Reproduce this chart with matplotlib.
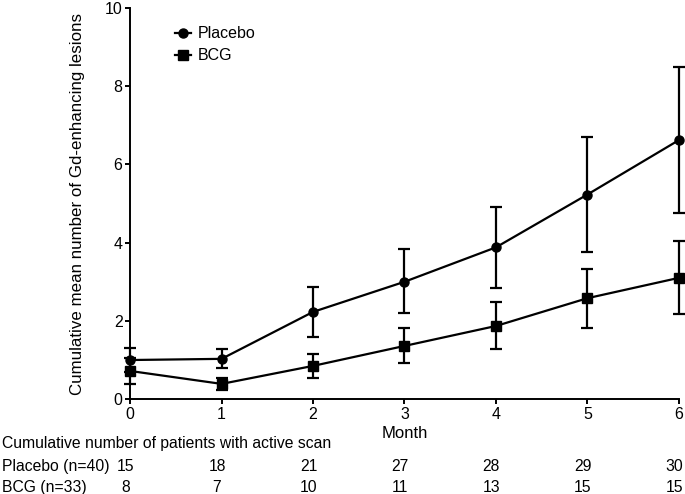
import matplotlib.pyplot as plt
from matplotlib import transforms

plt.rcParams['font.family'] = ['Liberation Sans', 'DejaVu Sans']

months = [0, 1, 2, 3, 4, 5, 6]

placebo = [1.0, 1.03, 2.23, 3.0, 3.88, 5.23, 6.62]
placebo_lo = [0.69, 0.79, 1.59, 2.2, 2.84, 3.76, 4.76]
placebo_hi = [1.31, 1.28, 2.87, 3.83, 4.92, 6.7, 8.49]

bcg = [0.72, 0.39, 0.85, 1.36, 1.87, 2.58, 3.1]
bcg_lo = [0.39, 0.23, 0.54, 0.92, 1.28, 1.82, 2.17]
bcg_hi = [1.05, 0.54, 1.15, 1.82, 2.48, 3.32, 4.04]

n_placebo = [15, 18, 21, 27, 28, 29, 30]
n_bcg = [8, 7, 10, 11, 13, 15, 15]


def err(mean, lo, hi):
    return [[m - l for m, l in zip(mean, lo)], [h - m for m, h in zip(mean, hi)]]


fig = plt.figure(figsize=(6.85, 4.94), dpi=100)
ax = fig.add_axes([0.19, 0.192, 0.801, 0.792])

ax.errorbar(months, placebo, yerr=err(placebo, placebo_lo, placebo_hi), color='black',
            marker='o', markersize=6.5, lw=1.6, elinewidth=1.6, capsize=4, capthick=1.6,
            label='Placebo', clip_on=False, zorder=3)
ax.errorbar(months, bcg, yerr=err(bcg, bcg_lo, bcg_hi), color='black',
            marker='s', markersize=6.5, lw=1.6, elinewidth=1.6, capsize=4, capthick=1.6,
            label='BCG', clip_on=False, zorder=3)

ax.set_xlim(0, 6)
ax.set_ylim(0, 10)
ax.set_xticks(months)
ax.set_yticks([0, 2, 4, 6, 8, 10])
ax.spines['top'].set_visible(False)
ax.spines['right'].set_visible(False)
ax.spines['left'].set_linewidth(1.4)
ax.spines['bottom'].set_linewidth(1.4)
ax.tick_params(labelsize=11.5, width=1.4, length=3.5, pad=2, direction='out')
ax.set_xlabel('Month', fontsize=12, labelpad=3)
ax.set_ylabel('Cumulative mean number of Gd-enhancing lesions', fontsize=12.2, labelpad=14)

handles, labels = ax.get_legend_handles_labels()
handles = [h[0] for h in handles]
ax.legend(handles, labels, loc='upper left', bbox_to_anchor=(0.055, 0.99), frameon=False,
          fontsize=11.5, handlelength=1.0, handletextpad=0.45, labelspacing=0.45)

tr = transforms.blended_transform_factory(ax.transData, fig.transFigure)
fs = 11.3
fig.text(0.003, 0.103, 'Cumulative number of patients with active scan', fontsize=fs, va='center')
fig.text(0.003, 0.055, 'Placebo (n=40)', fontsize=fs, va='center')
fig.text(0.003, 0.014, 'BCG (n=33)', fontsize=fs, va='center')
for m, a, b in zip(months, n_placebo, n_bcg):
    ax.text(m - 0.05, 0.055, str(a), transform=tr, ha='center', va='center', fontsize=fs)
    ax.text(m - 0.05, 0.014, str(b), transform=tr, ha='center', va='center', fontsize=fs)

fig.savefig('out.png', dpi=100)
